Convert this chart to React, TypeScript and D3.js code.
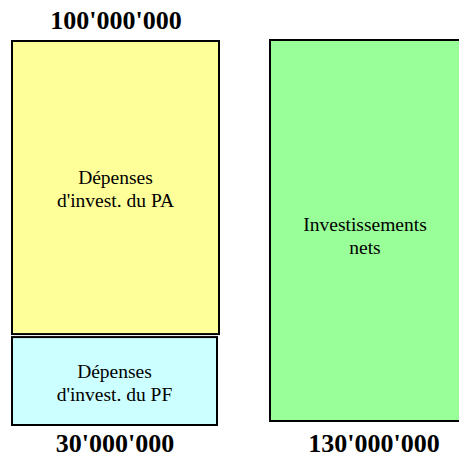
import * as d3 from "d3";
import React from "react";

// left column stacked (bottom to top), right column single block
const stackLabels = [["Dépenses", "d'invest. du PF"], ["Dépenses", "d'invest. du PA"]];
const stackValues = [30000000, 100000000];
const stackColors = ["#CCFFFF", "#FFFF99"];
const netLabel = ["Investissements", "nets"];
const netValue = 130000000;
const netColor = "#99FF99";

const W = 459;
const H = 457;

const fmt = d3.formatLocale({ decimal: ".", thousands: "'", grouping: [3], currency: ["", ""] }).format(",");

const App: React.FC = () => {
    const h = d3.scaleLinear().domain([0, netValue]).range([0, 381]);
    const gap = 3;
    const leftX = 12;
    const leftBase = 425;
    const rightX = 270;
    const rightBase = 421;

    // compute stacked boxes
    let cur = leftBase;
    const boxes = stackValues.map((v, i) => {
        const bh = h(v);
        const top = cur - bh;
        const b = { top, bh, v, label: stackLabels[i], color: stackColors[i], w: i === 0 ? 205 : 207 };
        cur = top - gap;
        return b;
    });
    const netH = h(netValue);
    const netTop = rightBase - netH;
    const netW = 191;

    const font = "'Liberation Serif', 'Times New Roman', serif";

    return (
        <svg width={W} height={H} style={{ position: "absolute", left: 0, top: 0, background: "white" }} fontFamily={font}>
            {boxes.map((b, i) => (
                <g key={i}>
                    <rect x={leftX} y={b.top} width={b.w} height={b.bh} fill={b.color} stroke="#000" strokeWidth={2} />
                    {b.label.map((t, j) => (
                        <text key={j} x={leftX + b.w / 2} y={b.top + b.bh / 2 + 2 + (j - 0.5) * 23 + 6} textAnchor="middle" fontSize={19.5}>{t}</text>
                    ))}
                </g>
            ))}
            <text x={116} y={29} textAnchor="middle" fontSize={26} fontWeight="bold">{fmt(stackValues[1])}</text>
            <text x={115} y={452} textAnchor="middle" fontSize={26} fontWeight="bold">{fmt(stackValues[0])}</text>

            <rect x={rightX} y={netTop} width={netW} height={netH} fill={netColor} stroke="#000" strokeWidth={2} />
            {netLabel.map((t, j) => (
                <text key={j} x={365} y={netTop + netH / 2 + 6 + (j - 0.5) * 23 + 6} textAnchor="middle" fontSize={19.5}>{t}</text>
            ))}
            <text x={374} y={452} textAnchor="middle" fontSize={26} fontWeight="bold">{fmt(netValue)}</text>
        </svg>
    );
};

export default App;
